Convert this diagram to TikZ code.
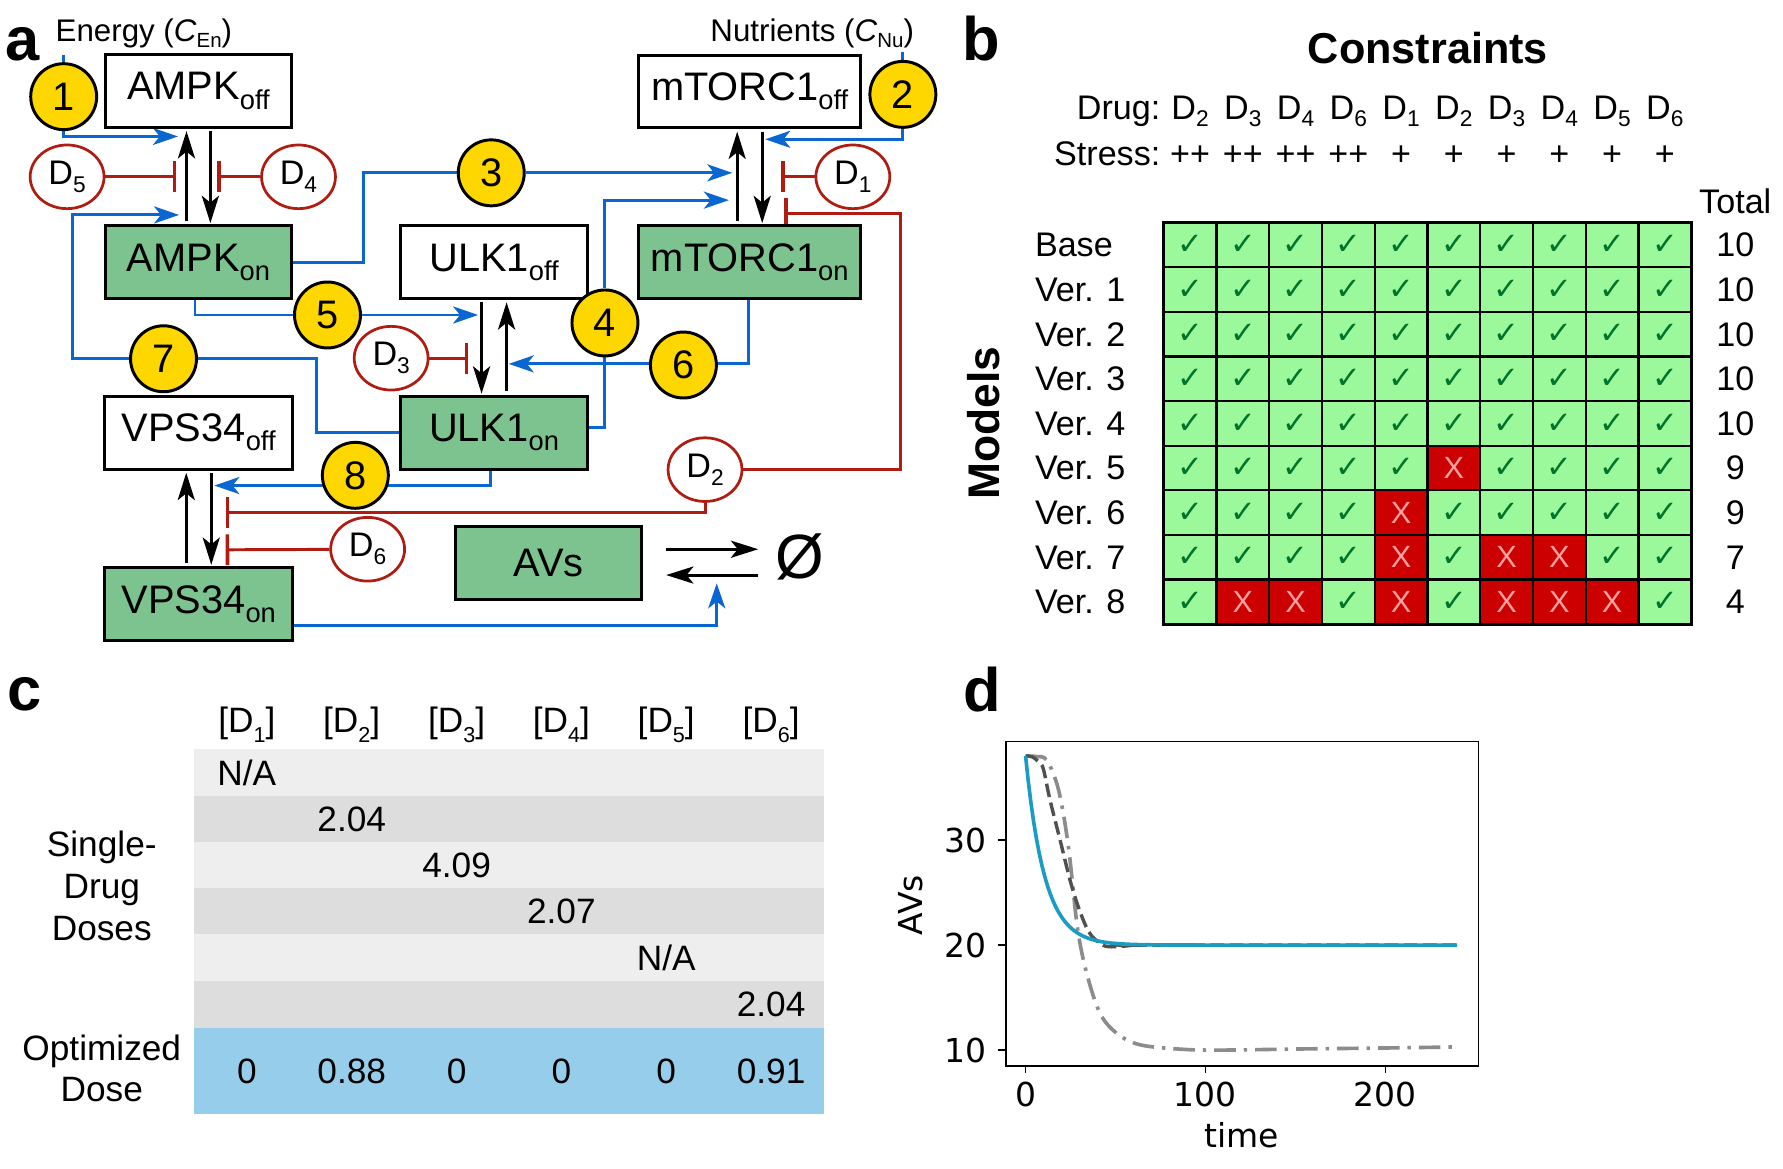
\documentclass[tikz,border=0pt]{standalone}
\usepackage{fontspec}
\setmainfont{Liberation Sans}
\newfontfamily\dejavu{DejaVu Sans}
\usetikzlibrary{arrows.meta,shapes.geometric,backgrounds,calc}
\definecolor{boxgreen}{HTML}{7DC38F}
\definecolor{numyellow}{HTML}{FFD700}
\definecolor{actblue}{HTML}{0A66D0}
\definecolor{inhred}{HTML}{AE1C12}
\definecolor{cellgreen}{HTML}{9BF99B}
\definecolor{cellred}{HTML}{CC0000}
\definecolor{xpink}{HTML}{FFA0A0}
\definecolor{checkgreen}{HTML}{00742A}
\definecolor{rowlight}{HTML}{EEEEEE}
\definecolor{rowdark}{HTML}{DDDDDD}
\definecolor{optblue}{HTML}{95CDEA}
\definecolor{curveteal}{HTML}{1B9DC2}
\definecolor{dashgray}{HTML}{505050}
\definecolor{dotgray}{HTML}{8C8C8C}
\newcommand{\fsz}[1]{\fontsize{#1}{#1}\selectfont}
\newcommand{\lowsub}[3]{\raisebox{-#1pt}{\fsz{#2}#3}}
\tikzset{
  box/.style={draw, line width=2.6pt, minimum width=164pt, minimum height=64pt, inner sep=0pt, font=\fsz{35}},
  onbox/.style={box, fill=boxgreen},
  num/.style={circle, draw, line width=2.6pt, fill=numyellow, minimum size=58pt, inner sep=0pt, font=\fsz{35}},
  drug/.style={ellipse, draw=inhred, line width=2.4pt, fill=white, minimum width=65pt, minimum height=56pt, inner sep=0pt, font=\fsz{30}},
  act/.style={draw=actblue, line width=2.6pt, -{Stealth[length=22pt,width=15pt,inset=6pt]}},
  inh/.style={draw=inhred, line width=2.6pt, -{Bar[width=27pt,line width=3.2pt]}},
  conv/.style={draw=black, line width=2.6pt, -{Stealth[length=24pt,width=15pt,inset=6pt]}},
  lbl/.style={inner sep=0pt},
  panel/.style={inner sep=0pt, anchor=base west, font=\bfseries\fsz{54}},
  btext/.style={inner sep=0pt, font=\fsz{30}},
  ctext/.style={inner sep=0pt, font=\fsz{31}},
  dtext/.style={inner sep=0pt, font=\dejavu\fsz{29}}
}
\begin{document}
\begin{tikzpicture}[x=1pt,y=-1pt]
\useasboundingbox (0,0) rectangle (1568,1028);

% ---------------- panel a ----------------
\node[panel] (lbla) at (5,53) {a};
\node[lbl, anchor=base west, font=\fsz{27.5}] (energy) at (48.8,36.7) {Energy (\textit{C}\lowsub{5}{18}{En})};
\node[lbl, anchor=base east, font=\fsz{27.5}] (nutr) at (804,36.7) {Nutrients (\textit{C}\lowsub{5}{18}{Nu})};

\node[box] (ampkoff) at (174.5,80) {AMPK\lowsub{8}{24}{off}};
\node[onbox] (ampkon) at (174.5,230.5) {AMPK\lowsub{8}{24}{on}};
\node[box] (ulkoff) at (434.5,230.5) {ULK1\lowsub{8}{24}{off}};
\node[onbox] (ulkon) at (434.5,380.5) {ULK1\lowsub{8}{24}{on}};
\node[box, minimum width=195pt] (mtoroff) at (659.3,80.5) {mTORC1\lowsub{8}{24}{off}};
\node[onbox, minimum width=195pt] (mtoron) at (659.3,230.5) {mTORC1\lowsub{8}{24}{on}};
\node[box, minimum width=165pt] (vpsoff) at (174.8,380.5) {VPS34\lowsub{8}{24}{off}};
\node[onbox, minimum width=165pt] (vpson) at (174.8,531) {VPS34\lowsub{8}{24}{on}};
\node[onbox] (avs) at (482.5,495) {AVs};
\node[lbl, font=\fsz{55}] (null) at (703,490) {Ø};

\node[num] (n1) at (56,85) {1};
\node[num] (n2) at (794,83) {2};
\node[num] (n3) at (432,152) {3};
\node[num] (n4) at (532,284) {4};
\node[num] (n5) at (288,277) {5};
\node[num] (n6) at (601,321) {6};
\node[num] (n7) at (143.8,315.5) {7};
\node[num] (n8) at (312.5,418) {8};

\node[drug] (d5) at (59,155.5) {D\lowsub{7}{20}{5}};
\node[drug] (d4) at (262.5,155.5) {D\lowsub{7}{20}{4}};
\node[drug] (d1) at (750,155.5) {D\lowsub{7}{20}{1}};
\node[drug] (d3) at (344,315) {D\lowsub{7}{20}{3}};
\node[drug] (d2) at (620,413) {D\lowsub{7}{20}{2}};
\node[drug] (d6) at (323.3,483) {D\lowsub{7}{20}{6}};

\coordinate (e1) at (56,48);
\coordinate (e2) at (794,45.5);
\coordinate (t1) at (156.5,120);
\coordinate (t2) at (673,122.5);
\coordinate (b3) at (319.8,152);
\coordinate (t3) at (644,152);
\coordinate (t4) at (641,176);
\coordinate (t5) at (420.5,277);
\coordinate (t6) at (447.4,320);
\coordinate (b7) at (278,315.5);
\coordinate (c7) at (64,189);
\coordinate (t7) at (157.5,189);
\coordinate (t8) at (188.5,427);
\coordinate (tav) at (630.3,513);
\coordinate (i5) at (155,155.5);
\coordinate (i4) at (191.2,155.5);
\coordinate (i1) at (687.2,155.5);
\coordinate (i3) at (412,315);
\coordinate (i6) at (198.4,483.5);
\coordinate (c2) at (792,187.6);
\coordinate (i2a) at (689.7,187.6);
\coordinate (i2b) at (198.4,450.6);

\begin{scope}[on background layer]
  \draw[act] (e1) -- (n1) |- (t1);
  \draw[act] (e2) -- (n2) |- (t2);
  \draw[act] (ampkon.east) -| (b3) -- (n3) -- (t3);
  \draw[act] ([yshift=4.7pt]ulkon.east) -| (n4) |- (t4);
  \draw[act] ([xshift=-3pt]ampkon.south) |- (t5);
  \draw[act] ([xshift=-1.3pt]mtoron.south) |- (t6);
  \draw[act] (ulkon.west) -| (b7) -- (n7) -| (c7) -- (t7);
  \draw[act] ([xshift=-3.5pt]ulkon.south) |- (t8);
  \draw[act] ([yshift=-19.3pt]vpson.east) -| (tav);
  \draw[inh] (d5) -- (i5);
  \draw[inh] (d4) -- (i4);
  \draw[inh] (d1) -- (i1);
  \draw[inh] (d3) -- (i3);
  \draw[inh] (d6) -- (i6);
  \draw[inh] (d2) -| (c2) -- (i2a);
  \draw[inh] (d2) |- (i2b);
\end{scope}

\draw[conv, shorten <=3pt, shorten >=2pt] ([xshift=-10.5pt]ampkon.north) -- ([xshift=-10.5pt]ampkoff.south);
\draw[conv, shorten <=2pt, shorten >=1pt] ([xshift=10.5pt]ampkoff.south) -- ([xshift=10.5pt]ampkon.north);
\draw[conv, shorten <=3pt, shorten >=2pt] ([xshift=-11pt]mtoron.north) -- ([xshift=-11pt]mtoroff.south);
\draw[conv, shorten <=2pt, shorten >=1pt] ([xshift=11pt]mtoroff.south) -- ([xshift=11pt]mtoron.north);
\draw[conv, shorten <=2pt, shorten >=1pt] ([xshift=-11pt]ulkoff.south) -- ([xshift=-11pt]ulkon.north);
\draw[conv, shorten <=3pt, shorten >=2pt] ([xshift=11pt]ulkon.north) -- ([xshift=11pt]ulkoff.south);
\draw[conv, shorten <=3pt, shorten >=2pt] ([xshift=-11pt]vpson.north) -- ([xshift=-11pt]vpsoff.south);
\draw[conv, shorten <=2pt, shorten >=1pt] ([xshift=11pt]vpsoff.south) -- ([xshift=11pt]vpson.north);
\draw[conv] ($(avs.east)+(20,-12)$) -- ($(avs.east)+(101,-12)$);
\draw[conv] ($(avs.east)+(101,10.7)$) -- ($(avs.east)+(20,10.7)$);

% ---------------- panel b ----------------
\node[panel] (lblb) at (846,52.8) {b};
\node[lbl, anchor=base, font=\bfseries\fsz{38}] (constr) at (1255.7,55.7) {Constraints};
\node[lbl, rotate=90, font=\bfseries\fsz{39}] (models) at (865,372) {Models};
\node[btext, anchor=base east] (drug) at (1020.6,105.5) {Drug:};
\node[btext, anchor=base east] (stress) at (1020.6,145.7) {Stress:};
\node[btext, anchor=base] (total) at (1526,188) {Total};
\foreach \d/\s [count=\c] in {2/++,3/++,4/++,6/++,1/+,2/+,3/+,4/+,5/+,6/+}{
  \node[btext, anchor=base] (dh\c) at ({1023.4+(\c-0.5)*46.39},105.5) {D\lowsub{6}{20}{\d}};
  \node[btext, anchor=base] (sh\c) at ({1023.4+(\c-0.5)*46.39},145.7) {\s};
}
\foreach \lab/\tot [count=\i from 0] in {Base/10,Ver. 1/10,Ver. 2/10,Ver. 3/10,Ver. 4/10,Ver. 5/9,Ver. 6/9,Ver. 7/7,Ver. 8/4}{
  \node[btext, anchor=base west] (rl\i) at (910,{195.8+(\i+0.5)*39.22+10.5}) {\lab};
  \node[btext, anchor=base] (tot\i) at (1526,{195.8+(\i+0.5)*39.22+10.5}) {\tot};
}
\begin{scope}[shift={(1023.4,195.8)}, x=46.39pt, y=-39.22pt]
  \foreach \r/\row in {0/{1,1,1,1,1,1,1,1,1,1},1/{1,1,1,1,1,1,1,1,1,1},2/{1,1,1,1,1,1,1,1,1,1},3/{1,1,1,1,1,1,1,1,1,1},4/{1,1,1,1,1,1,1,1,1,1},5/{1,1,1,1,1,0,1,1,1,1},6/{1,1,1,1,0,1,1,1,1,1},7/{1,1,1,1,0,1,0,0,1,1},8/{1,0,0,1,0,1,0,0,0,1}}{
    \foreach \v [count=\c] in \row {
      \ifnum\v=1
        \fill[cellgreen] (\c-1,\r) rectangle (\c,\r+1);
        \node[inner sep=0pt, font=\dejavu\fsz{27}, text=checkgreen] (chk-\r-\c) at (\c-0.5,\r+0.5) {✓};
      \else
        \fill[cellred] (\c-1,\r) rectangle (\c,\r+1);
        \node[inner sep=0pt, font=\fsz{27}, text=xpink] (xx-\r-\c) at (\c-0.5,\r+0.5) {X};
      \fi
    }
  }
  \foreach \c in {0,...,10} \draw[line width=2pt] (\c,0) -- (\c,9);
  \foreach \r in {0,...,9} \draw[line width=2pt] (0,\r) -- (10,\r);
  \draw[line width=2.6pt] (0,0) rectangle (10,9);
\end{scope}

% ---------------- panel c ----------------
\node[panel] (lblc) at (6,624.5) {c};
\fill[rowlight] (171,659) rectangle (724.2,699.8);
\fill[rowdark] (171,699.8) rectangle (724.2,740.2);
\fill[rowlight] (171,740.2) rectangle (724.2,781.3);
\fill[rowdark] (171,781.3) rectangle (724.2,821.7);
\fill[rowlight] (171,821.7) rectangle (724.2,862.8);
\fill[rowdark] (171,862.8) rectangle (724.2,903.6);
\fill[optblue] (171,903.6) rectangle (724.2,980);
\foreach \k/\opt [count=\c] in {1/0,2/0.88,3/0,4/0,5/0,6/0.91}{
  \node[ctext, anchor=base] (ch\c) at ({217.1+(\c-1)*92.2},644) {[D\lowsub{9}{19}{\k}]};
  \node[ctext, anchor=base] (opt\c) at ({217.1+(\c-1)*92.2},953) {\opt};
}
\foreach \yc/\val [count=\c] in {679.4/{N/A},720/2.04,760.8/4.09,801.5/2.07,842.3/{N/A},883.2/2.04}{
  \node[ctext, anchor=base] (sd\c) at ({217.1+(\c-1)*92.2},{\yc+11}) {\val};
}
\node[ctext, anchor=base] (sl1) at (89.5,753.5) {Single-};
\node[ctext, anchor=base] (sl2) at (89.5,790) {Drug};
\node[ctext, anchor=base] (sl3) at (89.5,826.7) {Doses};
\node[ctext, anchor=base] (ol1) at (89.5,932.3) {Optimized};
\node[ctext, anchor=base] (ol2) at (89.5,968.9) {Dose};

% ---------------- panel d ----------------
\node[panel] (lbld) at (847,626) {d};
\node[dtext, anchor=base] (xlab) at (1092,1009) {time};
\node[dtext, rotate=90] (ylab) at (801,796) {AVs};
\foreach \t/\xx in {0/901.9,100/1060,200/1218.2}{
  \draw[line width=1.3pt] (\xx,937.6) -- (\xx,944);
  \node[dtext, anchor=base] (xt\t) at (\xx,973.3) {\t};
}
\foreach \v/\yy in {30/738.8,20/831.1,10/923.5}{
  \draw[line width=1.3pt] (884.5,\yy) -- (878,\yy);
  \node[dtext, anchor=east] (yt\v) at (868,\yy) {\v};
}
\begin{scope}[shift={(901.9,831.1)}, x=1.5815pt, y=9.235pt]
  \begin{scope}
  \clip (-11,-11.8) rectangle (252,21);
  \draw[dotgray, line width=3.2pt, dash pattern=on 19pt off 7pt on 3pt off 7pt, line join=round] plot[smooth, tension=0.55] coordinates {(0,18) (6,17.95) (11.8,17.6) (18.3,14.8) (23.8,9.4) (28.8,1.7) (34,-2.7) (41.4,-6.5) (50.7,-8.4) (63.7,-9.5) (87.8,-9.93) (110,-10) (150,-9.9) (200,-9.8) (240,-9.7)};
  \draw[dashgray, line width=3pt, dash pattern=on 12pt off 5pt] plot[smooth, tension=0.55] coordinates {(0,18) (4,17.9) (8,17.3) (10,16.7) (13.6,13.8) (19.2,10) (24.7,6.2) (29.4,3.6) (35,1.3) (41,0.2) (46,-0.15) (55,-0.1) (70,0) (240,0)};
  \draw[curveteal, line width=3.2pt] plot[domain=0:240, samples=160] (\x,{18*exp(max(-\x/10.5,-12))});
  \end{scope}
\end{scope}
\draw[line width=1.3pt] (884.5,652.3) rectangle (1300.2,937.6);
\end{tikzpicture}
\end{document}
